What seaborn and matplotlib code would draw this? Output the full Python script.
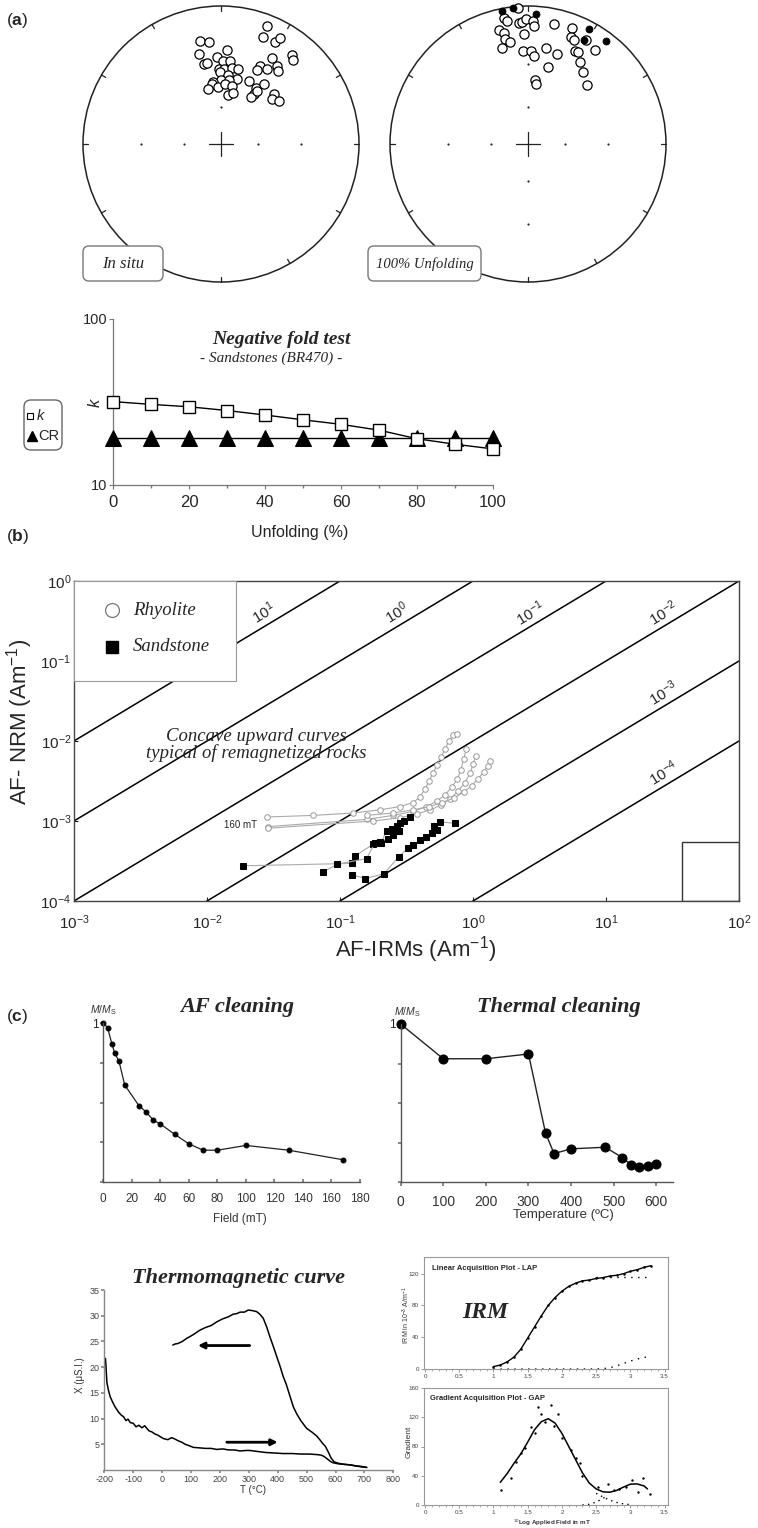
import numpy as np
import matplotlib
matplotlib.use("Agg")
import matplotlib.pyplot as plt
from matplotlib.patches import Circle, Rectangle, FancyBboxPatch
from matplotlib.ticker import NullLocator, FixedLocator
import seaborn as sns

sns.set_theme(style="ticks")
plt.rcParams["font.family"] = ["Liberation Sans", "DejaVu Sans"]
plt.rcParams["mathtext.fontset"] = "custom"
plt.rcParams["mathtext.rm"] = "Liberation Sans"
plt.rcParams["mathtext.it"] = "Liberation Sans:italic"
plt.rcParams["mathtext.bf"] = "Liberation Sans:bold"
plt.rcParams["axes.linewidth"] = 0.9
plt.rcParams["axes.unicode_minus"] = False
SERIF = ["Liberation Serif", "DejaVu Serif"]

# ---------------------------------------------------------------- data
# (a) site-mean directions: declination / inclination in degrees
#     (negative inclination = upper hemisphere, open symbols)
insitu_dec = [21.5, 21.6, 28.0, 29.2, 348.7, 353.3, 346.5, 348.1, 350.4, 3.6,
              357.1, 1.6, 6.2, 358.5, 2.3, 8.0, 13.0, 359.2, 6.0, 359.7,
              353.0, 351.5, 13.8, 7.5, 356.7, 4.1, 10.8, 346.4, 8.1, 13.6,
              30.5, 35.4, 37.9, 26.5, 25.6, 31.2, 38.5, 40.4, 24.1, 32.0,
              35.6, 33.4, 33.0, 46.7, 48.6, 53.8, 34.1]
insitu_inc = [-5.0, -10.4, -10.0, -7.5, -15.2, -16.8, -22.2, -28.5, -28.5, -21.2,
              -25.6, -28.2, -27.4, -32.8, -32.7, -31.8, -31.5, -35.2, -36.4, -40.0,
              -41.2, -42.6, -38.2, -40.1, -45.0, -42.6, -44.0, -45.4, -50.3, -48.4,
              -18.2, -20.3, -22.2, -25.6, -28.3, -25.0, -10.8, -12.6, -37.2, -38.8,
              -34.0, -43.0, -46.0, -34.4, -37.6, -34.8, -40.6]
unfold_dec = [355.9, 349.1, 350.3, 355.6, 357.2, 359.2, 2.2, 3.1, 12.0, 345.6,
              347.6, 358.1, 347.5, 349.8, 344.8, 356.9, 2.1, 4.1, 10.8, 17.9,
              14.3, 20.8, 21.9, 23.6, 29.2, 26.8, 28.5, 35.7, 32.2, 37.1,
              45.2, 6.2, 8.0, 349.1, 353.8, 3.4, 27.9, 28.2, 37.2]
unfold_inc = [-0.5, -4.2, -5.9, -7.4, -7.2, -5.6, -6.4, -9.0, -6.6, -9.0,
              -11.0, -12.7, -14.2, -16.2, -18.6, -22.2, -22.2, -25.0, -19.6, -21.2,
              -30.0, -6.1, -10.2, -11.0, -8.2, -15.6, -15.6, -10.2, -19.8, -23.4,
              -27.6, -40.0, -42.8, 1.0, 0.3, 3.5, 3.4, 9.1, 3.6]

# fold test
unfolding_pct = [0, 10, 20, 30, 40, 50, 60, 70, 80, 90, 100]
k_precision = [31.8, 30.6, 29.6, 28.1, 26.4, 24.7, 23.2, 21.4, 19.0, 17.6, 16.5]
cr_critical = [19.3, 19.3, 19.3, 19.3, 19.3, 19.3, 19.3, 19.3, 19.3, 19.3, 19.3]

# (b) NRM / IRM ratio guide lines and AF demagnetisation paths (log10 of Am^-1)
ratio_values = [1e2, 1e1, 1e0, 1e-1, 1e-2, 1e-3, 1e-4]
ratio_labels = ["10^{1}", "10^{0}", "10^{-1}", "10^{-2}", "10^{-3}", "10^{-4}"]
ratio_label_values = [1e1, 1e0, 1e-1, 1e-2, 1e-3, 1e-4]
ratio_label_logy = [-0.4, -0.4, -0.4, -0.4, -1.4, -2.4]

rhy1_irm = [-1.55, -1.2, -0.9, -0.7, -0.55, -0.45, -0.4, -0.36, -0.33, -0.3, -0.27, -0.24, -0.21, -0.18, -0.15, -0.12]
rhy1_nrm = [-2.95, -2.93, -2.90, -2.86, -2.82, -2.77, -2.70, -2.60, -2.50, -2.40, -2.30, -2.20, -2.10, -2.00, -1.93, -1.91]
rhy2_irm = [-1.54, -0.8, -0.6, -0.45, -0.35, -0.27, -0.21, -0.16, -0.12, -0.09, -0.07, -0.05]
rhy2_nrm = [-3.07, -2.98, -2.93, -2.88, -2.82, -2.75, -2.67, -2.58, -2.48, -2.36, -2.22, -2.10]
rhy3_irm = [-1.54, -0.75, -0.55, -0.42, -0.32, -0.24, -0.17, -0.11, -0.06, -0.02, 0.0, 0.02]
rhy3_nrm = [-3.09, -3.00, -2.96, -2.91, -2.86, -2.80, -2.72, -2.62, -2.52, -2.40, -2.29, -2.19]
rhy4_irm = [-0.8, -0.6, -0.45, -0.33, -0.23, -0.14, -0.07, -0.01, 0.04, 0.08, 0.11, 0.13]
rhy4_nrm = [-2.93, -2.90, -2.86, -2.82, -2.77, -2.71, -2.64, -2.56, -2.47, -2.39, -2.31, -2.25]

sst1_irm = [-1.73, -0.91, -0.89, -0.75, -0.69, -0.65, -0.61, -0.57, -0.55, -0.52, -0.47]
sst1_nrm = [-3.56, -3.53, -3.44, -3.29, -3.27, -3.12, -3.10, -3.06, -3.03, -3.00, -2.95]
sst2_irm = [-1.13, -1.02, -0.80, -0.74, -0.70, -0.64, -0.60, -0.56]
sst2_nrm = [-3.64, -3.54, -3.47, -3.28, -3.26, -3.22, -3.17, -3.13]
sst3_irm = [-0.91, -0.81, -0.67, -0.56, -0.49, -0.45, -0.40, -0.35, -0.31, -0.27, -0.29, -0.25, -0.135]
sst3_nrm = [-3.67, -3.72, -3.66, -3.45, -3.34, -3.30, -3.24, -3.20, -3.15, -3.11, -3.06, -3.01, -3.03]

# (c) AF and thermal demagnetisation
af_field = [0, 3, 6, 8, 11, 15, 25, 30, 35, 40, 50, 60, 70, 80, 100, 130, 168]
af_moment = [1.0, 0.97, 0.87, 0.81, 0.76, 0.61, 0.48, 0.44, 0.39, 0.365, 0.30, 0.24, 0.20, 0.20, 0.23, 0.20, 0.14]
th_temp = [0, 100, 200, 300, 340, 360, 400, 480, 520, 540, 560, 580, 600]
th_moment = [1.0, 0.78, 0.78, 0.81, 0.31, 0.18, 0.21, 0.22, 0.155, 0.11, 0.095, 0.10, 0.115]

# thermomagnetic run (heating then cooling)
heat_T = [-196, -194, -191, -186, -180, -172, -163, -150, -140, -134, -125, -118, -110, -100, -90,
          -80, -70, -60, -53, -45, -35, -25, -15, -7, 5, 20, 33, 45, 55, 68, 80, 95, 108, 130,
          150, 170, 189, 210, 230, 250, 270, 290, 304, 330, 360, 390, 419, 450, 480, 510, 535,
          550, 558, 566, 575, 584, 592, 610, 630, 650, 670, 690, 708]
heat_chi = [21.7, 20.0, 17.0, 15.6, 14.3, 13.3, 12.3, 11.2, 10.6, 10.4, 9.6, 9.9, 9.2, 9.1, 8.4,
            8.7, 8.2, 8.6, 8.1, 7.6, 7.4, 7.0, 6.8, 6.5, 6.1, 5.9, 6.3, 6.0, 5.7, 5.4, 5.0, 4.7, 4.4, 4.3,
            4.2, 4.2, 4.0, 4.1, 3.9, 3.9, 3.7, 3.8, 3.8, 3.6, 3.4, 3.3, 3.2, 3.2, 3.1, 3.1, 3.0,
            2.9, 2.7, 2.4, 2.0, 1.6, 1.4, 1.2, 1.1, 1.0, 0.8, 0.7, 0.5]
cool_T = [708, 690, 670, 650, 630, 610, 595, 585, 575, 565, 555, 547, 535, 520, 500, 480, 465,
          454, 440, 430, 419, 408, 397, 385, 373, 362, 350, 338, 327, 312, 298, 285, 270, 258,
          246, 230, 210, 189, 170, 150, 131, 110, 95, 85, 70, 55, 45, 37]
cool_chi = [0.5, 0.6, 0.8, 1.0, 1.1, 1.3, 1.6, 2.3, 3.5, 4.6, 5.2, 5.8, 6.6, 7.3, 8.1, 9.6, 11.0,
            12.3, 14.8, 16.6, 18.2, 20.2, 22.0, 24.0, 25.9, 27.8, 29.5, 30.3, 30.8, 31.0, 31.1, 30.7,
            30.7, 30.4, 30.3, 29.8, 29.4, 28.8, 28.1, 27.7, 27.2, 26.4, 25.9, 25.6, 25.0, 24.6, 24.5, 24.3]

# IRM acquisition (log10 field in mT)
lap_logfield = [1.0, 1.1, 1.2, 1.3, 1.4, 1.5, 1.6, 1.7, 1.8, 1.9, 2.0, 2.1,
                2.2, 2.3, 2.4, 2.5, 2.6, 2.7, 2.8, 2.9, 3.0, 3.1, 3.2, 3.3]
lap_total = [3, 5, 9, 15, 25, 39, 53, 67, 80, 90, 98, 104,
             108, 111, 112, 114, 115, 117, 118, 120, 123, 125, 128, 130]
lap_comp2 = [0, 0, 0, 0, 0, 0, 0, 0, 0, 0, 0, 0,
             0, 0, 0, 0, 0.5, 1.5, 4, 7, 10, 12.5, 14.5, 16]
lap_comp1_field = [2.5, 2.6, 2.7, 2.8, 2.9, 3.0, 3.1, 3.2, 3.3]
lap_comp1 = [116, 116, 116, 116, 116, 116, 116, 116, 116]

gap_logfield = [1.11, 1.25, 1.33, 1.40, 1.46, 1.55, 1.60, 1.65, 1.69, 1.75, 1.84, 1.88, 1.94, 2.00,
                2.14, 2.21, 2.27, 2.29, 2.53, 2.67, 2.76, 2.84, 2.94, 3.02, 3.11, 3.18, 3.28]
gap_gradient = [20, 37, 59, 71, 78, 107, 98, 134, 124, 113, 137, 108, 124, 92,
                75, 64, 57, 39, 24, 29, 20, 22, 25, 34, 18, 37, 15]
gapfit_logfield = [1.1, 1.2, 1.3, 1.4, 1.5, 1.6, 1.7, 1.8, 1.9, 2.0, 2.1, 2.2,
                   2.3, 2.4, 2.5, 2.6, 2.7, 2.8, 2.9, 3.0, 3.1, 3.2, 3.25]
gapfit_gradient = [31, 43, 57, 70, 86, 103, 114, 118, 112, 98, 80, 62,
                   44, 30, 22, 18, 17.5, 20, 24.5, 28.5, 28.8, 26, 22]
gapc1_logfield = [2.5, 2.6, 2.7, 2.8, 2.9, 3.0]
gapc1_gradient = [16, 11, 6.5, 3.5, 1.5, 0.5]
gapc2_logfield = [2.3, 2.4, 2.5, 2.6, 2.65]
gapc2_gradient = [0, 1, 4, 9, 12]

# ---------------------------------------------------------------- figure
W, H = 758, 1528
fig = plt.figure(figsize=(W / 100, H / 100), dpi=100)


def px_axes(x0, y0, x1, y1, **kw):
    return fig.add_axes([x0 / W, 1 - y1 / H, (x1 - x0) / W, (y1 - y0) / H], **kw)


def stereo_xy(dec, inc):
    d = np.radians(np.asarray(dec, float))
    i = np.radians(np.abs(np.asarray(inc, float)))
    r = np.tan((np.pi / 2 - i) / 2)
    return r * np.sin(d), r * np.cos(d)


def draw_net(ax, dec, inc, grid_dec):
    ax.set_xlim(-1.029, 1.029)
    ax.set_ylim(-1.029, 1.029)
    ax.set_aspect("equal")
    ax.axis("off")
    ax.add_patch(Circle((0, 0), 1.0, fill=False, lw=1.1, ec="#222"))
    for az in np.arange(0, 360, 30):
        a = np.radians(az)
        ax.plot([0.965 * np.sin(a), np.sin(a)], [0.965 * np.cos(a), np.cos(a)],
                color="#222", lw=0.9)
    ax.plot([-0.087, 0.087], [0, 0], color="#222", lw=0.9)
    ax.plot([0, 0], [-0.087, 0.087], color="#222", lw=0.9)
    for gi in (60, 30):
        gx, gy = stereo_xy(grid_dec, [gi] * len(grid_dec))
        ax.scatter(gx, gy, s=2.5, color="#222", lw=0)
    x, y = stereo_xy(dec, inc)
    inc = np.asarray(inc)
    up = inc < 0
    sns.scatterplot(x=x[up], y=y[up], ax=ax, s=44, color="white", edgecolor="black",
                    linewidth=0.9, zorder=3, clip_on=False, legend=False)
    if (~up).any():
        sns.scatterplot(x=x[~up], y=y[~up], ax=ax, s=26, color="black", edgecolor="black",
                        linewidth=0.5, zorder=4, clip_on=False, legend=False)


ax_s1 = px_axes(79, 2, 363, 286)
draw_net(ax_s1, insitu_dec, insitu_inc, [90, 270, 0])
ax_s2 = px_axes(386, 2, 670, 286)
draw_net(ax_s2, unfold_dec, unfold_inc, [0, 90, 180, 270])

# fold test
ax_f = px_axes(113, 319, 493, 485)
sns.lineplot(x=unfolding_pct, y=cr_critical, ax=ax_f, color="black", lw=1.0, marker="^",
             markersize=11, markerfacecolor="black", markeredgecolor="black",
             clip_on=False, zorder=3, legend=False)
sns.lineplot(x=unfolding_pct, y=k_precision, ax=ax_f, color="black", lw=1.0, marker="s",
             markersize=8, markerfacecolor="white", markeredgecolor="black",
             markeredgewidth=1.0, clip_on=False, zorder=4, legend=False)
ax_f.set_yscale("log")
ax_f.set_xlim(0, 100)
ax_f.set_ylim(10, 100)
ax_f.set_xlabel("")
ax_f.set_ylabel("")
ax_f.yaxis.set_major_locator(FixedLocator([10, 100]))
ax_f.set_yticklabels(["10", "100"])
ax_f.yaxis.set_minor_locator(NullLocator())
ax_f.set_xticks([0, 20, 40, 60, 80, 100])
ax_f.xaxis.set_minor_locator(FixedLocator([10, 30, 50, 70, 90]))
ax_f.tick_params(axis="x", labelsize=12, length=3, width=0.8, color="#777", pad=4)
ax_f.tick_params(axis="x", which="minor", length=2, color="#777")
ax_f.tick_params(axis="y", labelsize=10.5, length=3, width=0.8, color="#777", pad=1)
for s in ("top", "right"):
    ax_f.spines[s].set_visible(False)
for s in ("left", "bottom"):
    ax_f.spines[s].set_color("#777")

# (b) NRM vs IRM
ax_b = px_axes(74, 581, 739, 901)
xs_line = np.array([1e-3, 1e2])
for r in ratio_values:
    ax_b.plot(xs_line, r * xs_line, color="black", lw=1.1, zorder=1)
for xs, ys in ((rhy1_irm, rhy1_nrm), (rhy2_irm, rhy2_nrm), (rhy3_irm, rhy3_nrm), (rhy4_irm, rhy4_nrm)):
    sns.lineplot(x=10 ** np.array(xs), y=10 ** np.array(ys), ax=ax_b, sort=False, estimator=None,
                 color="#aaaaaa", lw=0.8, marker="o", markersize=4, markerfacecolor="white",
                 markeredgecolor="#999999", markeredgewidth=0.7, zorder=3, legend=False)
for xs, ys in ((sst1_irm, sst1_nrm), (sst2_irm, sst2_nrm), (sst3_irm, sst3_nrm)):
    sns.lineplot(x=10 ** np.array(xs), y=10 ** np.array(ys), ax=ax_b, sort=False, estimator=None,
                 color="#aaaaaa", lw=0.8, marker="s", markersize=4.2, markerfacecolor="black",
                 markeredgecolor="black", zorder=4, legend=False)
ax_b.set_xscale("log")
ax_b.set_yscale("log")
ax_b.set_xlim(1e-3, 1e2)
ax_b.set_ylim(1e-4, 1)
ax_b.set_xlabel("")
ax_b.set_ylabel("")
ax_b.xaxis.set_major_locator(FixedLocator([1e-3, 1e-2, 1e-1, 1e0, 1e1, 1e2]))
ax_b.set_xticklabels([r"$\mathregular{10^{%d}}$" % e for e in (-3, -2, -1, 0, 1, 2)])
ax_b.yaxis.set_major_locator(FixedLocator([1e-4, 1e-3, 1e-2, 1e-1, 1e0]))
ax_b.set_yticklabels([r"$\mathregular{10^{%d}}$" % e for e in (-4, -3, -2, -1, 0)])
ax_b.xaxis.set_minor_locator(NullLocator())
ax_b.yaxis.set_minor_locator(NullLocator())
ax_b.tick_params(axis="x", labelsize=11, length=3, direction="in", pad=9, width=0.8)
ax_b.tick_params(axis="y", labelsize=11, length=3, direction="in", pad=2, width=0.8)
for s in ax_b.spines.values():
    s.set_color("#444")
    s.set_linewidth(1.0)
p1 = ax_b.transData.transform((1e-2, 1e-2))
p2 = ax_b.transData.transform((1e-1, 1e-1))
line_angle = np.degrees(np.arctan2(p2[1] - p1[1], p2[0] - p1[0]))
for lab, rv, ly in zip(ratio_labels, ratio_label_values, ratio_label_logy):
    lx = ly - np.log10(rv) - 0.17
    ax_b.text(10 ** lx, 10 ** ly, r"$\mathregular{%s}$" % lab, rotation=line_angle,
              ha="center", va="center", fontsize=11, zorder=2)
ax_b.add_patch(Rectangle((37, 1e-4), 63, 4.5e-4, fill=False, ec="#333", lw=1.0, zorder=2))
# legend box
ax_b.add_patch(Rectangle((0, 0.6875), 0.2436, 0.3125, transform=ax_b.transAxes,
                         fc="white", ec="#999", lw=0.8, zorder=6))
ax_b.plot([0.057], [0.909], transform=ax_b.transAxes, marker="o", ms=10, mfc="white",
          mec="#777", mew=0.9, zorder=7, clip_on=False)
ax_b.plot([0.057], [0.794], transform=ax_b.transAxes, marker="s", ms=9, mfc="black",
          mec="black", zorder=7, clip_on=False)
ax_b.text(0.089, 0.909, "Rhyolite", transform=ax_b.transAxes, family=SERIF, style="italic",
          fontsize=13.5, va="center", ha="left", zorder=7)
ax_b.text(0.089, 0.794, "Sandstone", transform=ax_b.transAxes, family=SERIF, style="italic",
          fontsize=13.5, va="center", ha="left", zorder=7)
ax_b.text(10 ** -1.75, 10 ** -3.05, "160 mT", fontsize=7, ha="center", va="center", zorder=5)
ax_b.text(10 ** -1.63, 10 ** -2.05, "Concave upward curves\ntypical of remagnetized rocks",
          family=SERIF, style="italic", fontsize=13.5, ha="center", va="center",
          linespacing=1.0, zorder=5)


def open_axes(ax, color="#555"):
    for s in ("top", "right"):
        ax.spines[s].set_visible(False)
    for s in ("left", "bottom"):
        ax.spines[s].set_color(color)
        ax.spines[s].set_linewidth(1.0)
    ax.set_xlabel("")
    ax.set_ylabel("")


# AF cleaning
ax_af = px_axes(103.3, 1023, 360, 1182)
sns.lineplot(x=af_field, y=af_moment, ax=ax_af, sort=False, estimator=None, color="#222",
             lw=0.9, marker="o", markersize=3.5, markerfacecolor="black",
             markeredgecolor="black", clip_on=False, legend=False)
ax_af.set_xlim(0, 180)
ax_af.set_ylim(0, 1)
open_axes(ax_af)
ax_af.set_xticks(np.arange(0, 181, 20))
ax_af.set_yticks([0, 0.25, 0.5, 0.75, 1.0])
ax_af.set_yticklabels(["", "", "", "", "1"])
ax_af.tick_params(axis="x", labelsize=8.5, labelcolor="#333", length=2.5, color="#777",
                  direction="in", pad=8)
ax_af.tick_params(axis="y", labelsize=8.5, length=2.5, color="#777", pad=1)

# Thermal cleaning
ax_th = px_axes(400.6, 1024, 673, 1182)
sns.lineplot(x=th_temp, y=th_moment, ax=ax_th, sort=False, estimator=None, color="#222",
             lw=1.0, marker="o", markersize=6.5, markerfacecolor="black",
             markeredgecolor="black", clip_on=False, legend=False)
ax_th.set_xlim(0, 639)
ax_th.set_ylim(0, 1)
open_axes(ax_th)
ax_th.set_xticks(np.arange(0, 601, 100))
ax_th.set_yticks([0, 0.25, 0.5, 0.75, 1.0])
ax_th.set_yticklabels(["", "", "", "", "1"])
ax_th.tick_params(axis="x", labelsize=10, labelcolor="#333", length=3, color="#777", pad=6)
ax_th.tick_params(axis="y", labelsize=8.5, length=2.5, color="#777", pad=1)

# Thermomagnetic curve
ax_tm = px_axes(104.3, 1290, 393.3, 1470)
sns.lineplot(x=heat_T, y=heat_chi, ax=ax_tm, sort=False, estimator=None, color="black",
             lw=1.1, legend=False)
sns.lineplot(x=cool_T, y=cool_chi, ax=ax_tm, sort=False, estimator=None, color="black",
             lw=1.1, legend=False)
ax_tm.annotate("", xy=(124, 24.2), xytext=(303, 24.2),
               arrowprops=dict(arrowstyle="-|>", lw=2.0, color="black", mutation_scale=9,
                               shrinkA=0, shrinkB=0))
ax_tm.annotate("", xy=(400, 5.4), xytext=(224, 5.4),
               arrowprops=dict(arrowstyle="-|>", lw=2.0, color="black", mutation_scale=9,
                               shrinkA=0, shrinkB=0))
ax_tm.set_xlim(-200, 800)
ax_tm.set_ylim(0, 35)
open_axes(ax_tm, "#888")
ax_tm.set_xticks(np.arange(-200, 801, 100))
ax_tm.set_yticks(np.arange(5, 36, 5))
ax_tm.tick_params(labelsize=6.5, labelcolor="#444", length=2, color="#888", pad=1.5)

# IRM acquisition: LAP
ax_lap = px_axes(424, 1257, 668, 1369)
sns.lineplot(x=lap_logfield, y=lap_total, ax=ax_lap, color="black", lw=1.0, marker="o",
             markersize=1.8, markeredgewidth=0, legend=False)
sns.lineplot(x=lap_comp1_field, y=lap_comp1, ax=ax_lap, color="black", lw=1.0,
             linestyle=(0, (1, 4)), legend=False)
sns.lineplot(x=lap_logfield, y=lap_comp2, ax=ax_lap, color="black", lw=1.0,
             linestyle=(0, (1, 4)), legend=False)
ax_lap.set_xlim(-0.015, 3.55)
ax_lap.set_ylim(0, 141)
ax_lap.set_xlabel("")
ax_lap.set_ylabel("")

# IRM acquisition: GAP
ax_gap = px_axes(424, 1388, 668, 1505)
sns.lineplot(x=gapfit_logfield, y=gapfit_gradient, ax=ax_gap, color="black", lw=1.1, legend=False)
sns.scatterplot(x=gap_logfield, y=gap_gradient, ax=ax_gap, s=3, color="black", linewidth=0,
                legend=False)
sns.lineplot(x=gapc1_logfield, y=gapc1_gradient, ax=ax_gap, color="black", lw=1.0,
             linestyle=(0, (1, 3)), legend=False)
sns.lineplot(x=gapc2_logfield, y=gapc2_gradient, ax=ax_gap, color="black", lw=1.0,
             linestyle=(0, (1, 3)), legend=False)
ax_gap.set_xlim(-0.015, 3.55)
ax_gap.set_ylim(0, 160)
ax_gap.set_xlabel("")
ax_gap.set_ylabel("")

for ax, yt in ((ax_lap, [0, 40, 80, 120]), (ax_gap, [0, 40, 80, 120, 160])):
    ax.set_xticks(np.arange(0, 3.51, 0.5))
    ax.set_xticklabels(["0", "0.5", "1", "1.5", "2", "2.5", "3", "3.5"])
    ax.xaxis.set_minor_locator(FixedLocator(np.arange(0, 3.51, 0.1)))
    ax.set_yticks(yt)
    ax.tick_params(labelsize=4.5, labelcolor="#444", length=2, width=0.6, color="#888", pad=1.5)
    ax.tick_params(which="minor", length=1.2, width=0.5, color="#888")
    for s in ax.spines.values():
        s.set_color("#999")
        s.set_linewidth(0.8)

# ---------------------------------------------------------------- annotations (pixel overlay)
ov = fig.add_axes([0, 0, 1, 1], zorder=10)
ov.set_xlim(0, W)
ov.set_ylim(H, 0)
ov.axis("off")
ov.patch.set_alpha(0)

for lab, y in (("a", 20), ("b", 536), ("c", 1016)):
    ov.text(6, y, r"($\mathbf{%s}$)" % lab, fontsize=12.5, ha="left", va="center")

for (x0, wdt, txt, fs) in ((83, 80, "In situ", 12), (368, 113, "100% Unfolding", 10.5)):
    ov.add_patch(FancyBboxPatch((x0, 246), wdt, 35, boxstyle="round,pad=0,rounding_size=6",
                                fc="white", ec="#777", lw=1.0))
    ov.text(x0 + wdt / 2, 264, txt, family=SERIF, style="italic", fontsize=fs,
            ha="center", va="center")

ov.text(281, 340, "Negative fold test", family=SERIF, style="italic", fontweight="bold",
        fontsize=14, ha="center", va="center")
ov.text(271, 358, "- Sandstones (BR470) -", family=SERIF, style="italic", fontsize=11,
        ha="center", va="center")
ov.text(95, 403, "k", style="italic", fontsize=12, rotation=90, ha="center", va="center")
ov.text(300, 532, "Unfolding (%)", fontsize=11.5, ha="center", va="center")
ov.add_patch(FancyBboxPatch((24, 400), 38, 50, boxstyle="round,pad=0,rounding_size=7",
                            fc="white", ec="#666", lw=1.0))
ov.plot([30], [416], marker="s", ms=5, mfc="white", mec="black", mew=0.8)
ov.text(37, 416, "k", style="italic", fontsize=10.5, ha="left", va="center")
ov.plot([32], [436], marker="^", ms=7.5, color="black")
ov.text(38, 436, "CR", fontsize=10.5, ha="left", va="center")

ov.text(416, 950, r"AF-IRMs (Am$^{-1}$)", fontsize=16, ha="center", va="center")
ov.text(20, 722, r"AF- NRM (Am$^{-1}$)", fontsize=16, rotation=90, ha="center", va="center")

ov.text(237, 1007, "AF cleaning", family=SERIF, style="italic", fontweight="bold",
        fontsize=16, ha="center", va="center")
ov.text(559, 1007, "Thermal cleaning", family=SERIF, style="italic", fontweight="bold",
        fontsize=16, ha="center", va="center")
ov.text(238, 1278, "Thermomagnetic curve", family=SERIF, style="italic", fontweight="bold",
        fontsize=16, ha="center", va="center")
ov.text(103, 1010, r"$\mathit{M/M}_\mathregular{S}$", fontsize=7.5, ha="center", va="center",
        color="#333")
ov.text(407, 1012, r"$\mathit{M/M}_\mathregular{S}$", fontsize=7.5, ha="center", va="center",
        color="#333")
ov.text(240, 1219, "Field (mT)", fontsize=8.5, color="#333", ha="center", va="center")
ov.text(563, 1215, "Temperature (ºC)", fontsize=9.5, color="#333", ha="center", va="center")
ov.text(253, 1490, "T (°C)", fontsize=7, color="#333", ha="center", va="center")
ov.text(80, 1375, "X (μS.I.)", fontsize=7, color="#333", rotation=90, ha="center", va="center")

ov.text(432, 1269, "Linear Acquisition Plot - LAP", fontsize=5.5, fontweight="bold",
        ha="left", va="center")
ov.text(430, 1398, "Gradient Acquisition Plot - GAP", fontsize=5.5, fontweight="bold",
        ha="left", va="center")
ov.text(485, 1313, "IRM", family=SERIF, style="italic", fontweight="bold", fontsize=17,
        ha="center", va="center")
ov.text(406, 1315, r"IRM in 10$^{-3}$ A/m$^{-1}$", fontsize=5, rotation=90, ha="center",
        va="center", color="#333")
ov.text(409, 1442, "Gradient", fontsize=6, rotation=90, ha="center", va="center", color="#333")
ov.text(552, 1523, r"$^{10}$Log Applied Field in mT", fontsize=4.5, fontweight="bold",
        ha="center", va="center", color="#333")

fig.savefig("out.png", dpi=100)
